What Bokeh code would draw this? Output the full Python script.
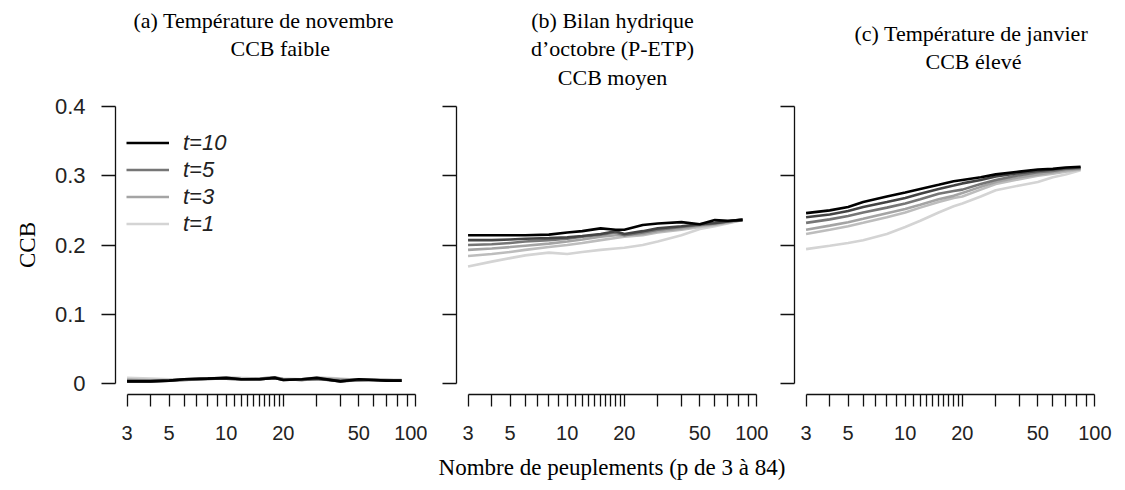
import math
from bokeh.plotting import figure
from bokeh.layouts import row, column
from bokeh.models import FixedTicker, Range1d, Title, Legend, LegendItem, Div
from bokeh.embed import file_html
from bokeh.resources import INLINE

# ---------------- data ----------------
P = [3, 4, 5, 6, 8, 10, 12, 15, 18, 20, 25, 30, 40, 50, 60, 70, 84]
T_LEVELS = [1, 2, 3, 5, 7, 10]
T_COLORS = ["#d4d4d4", "#bdbdbd", "#a4a4a4", "#767676", "#444444", "#000000"]
LEGEND_T = [10, 5, 3, 1]

# (a) Température de novembre
nov_t1 = [0.008, 0.007, 0.006, 0.006, 0.007, 0.009, 0.008, 0.007, 0.008, 0.007, 0.006, 0.009, 0.007, 0.005, 0.006, 0.005, 0.005]
nov_t2 = [0.006, 0.005, 0.005, 0.006, 0.007, 0.008, 0.007, 0.006, 0.008, 0.006, 0.005, 0.008, 0.006, 0.005, 0.005, 0.005, 0.005]
nov_t3 = [0.005, 0.004, 0.004, 0.005, 0.006, 0.008, 0.006, 0.006, 0.008, 0.006, 0.005, 0.007, 0.006, 0.004, 0.005, 0.004, 0.004]
nov_t5 = [0.004, 0.004, 0.004, 0.005, 0.007, 0.007, 0.006, 0.007, 0.009, 0.006, 0.005, 0.006, 0.004, 0.006, 0.005, 0.005, 0.004]
nov_t7 = [0.003, 0.003, 0.004, 0.006, 0.007, 0.007, 0.006, 0.006, 0.008, 0.005, 0.006, 0.007, 0.003, 0.005, 0.005, 0.004, 0.004]
nov_t10 = [0.003, 0.003, 0.004, 0.006, 0.007, 0.008, 0.006, 0.006, 0.008, 0.005, 0.006, 0.008, 0.003, 0.006, 0.005, 0.004, 0.004]

# (b) Bilan hydrique d'octobre
oct_t1 = [0.169, 0.176, 0.181, 0.185, 0.189, 0.187, 0.190, 0.193, 0.195, 0.196, 0.200, 0.205, 0.214, 0.223, 0.227, 0.231, 0.236]
oct_t2 = [0.184, 0.187, 0.190, 0.193, 0.197, 0.200, 0.203, 0.207, 0.210, 0.212, 0.214, 0.218, 0.222, 0.226, 0.229, 0.232, 0.236]
oct_t3 = [0.193, 0.195, 0.197, 0.199, 0.202, 0.205, 0.208, 0.212, 0.214, 0.214, 0.216, 0.220, 0.224, 0.228, 0.230, 0.233, 0.236]
oct_t5 = [0.200, 0.201, 0.203, 0.205, 0.207, 0.209, 0.212, 0.215, 0.218, 0.214, 0.218, 0.222, 0.226, 0.229, 0.231, 0.234, 0.237]
oct_t7 = [0.207, 0.207, 0.208, 0.209, 0.210, 0.211, 0.213, 0.216, 0.220, 0.216, 0.220, 0.224, 0.227, 0.230, 0.232, 0.234, 0.237]
oct_t10 = [0.214, 0.214, 0.214, 0.214, 0.215, 0.218, 0.220, 0.224, 0.222, 0.222, 0.229, 0.231, 0.233, 0.230, 0.236, 0.235, 0.236]

# (c) Température de janvier
jan_t1 = [0.194, 0.199, 0.203, 0.207, 0.216, 0.226, 0.235, 0.247, 0.256, 0.260, 0.270, 0.279, 0.286, 0.291, 0.298, 0.302, 0.308]
jan_t2 = [0.216, 0.222, 0.227, 0.232, 0.240, 0.247, 0.254, 0.262, 0.268, 0.270, 0.280, 0.288, 0.295, 0.300, 0.303, 0.306, 0.309]
jan_t3 = [0.222, 0.228, 0.233, 0.238, 0.246, 0.252, 0.258, 0.266, 0.271, 0.275, 0.284, 0.291, 0.298, 0.302, 0.305, 0.308, 0.310]
jan_t5 = [0.232, 0.237, 0.242, 0.247, 0.254, 0.260, 0.266, 0.274, 0.278, 0.280, 0.288, 0.294, 0.301, 0.305, 0.307, 0.310, 0.311]
jan_t7 = [0.240, 0.244, 0.249, 0.255, 0.262, 0.268, 0.274, 0.281, 0.286, 0.289, 0.294, 0.299, 0.304, 0.307, 0.309, 0.311, 0.312]
jan_t10 = [0.246, 0.250, 0.255, 0.262, 0.270, 0.276, 0.281, 0.287, 0.292, 0.294, 0.298, 0.302, 0.306, 0.309, 0.310, 0.312, 0.313]

X_TICKS = [3, 4, 5, 6, 7, 8, 9, 10, 11, 12, 13, 14, 15, 16, 17, 18, 19, 20,
           30, 40, 50, 60, 70, 80, 90, 100]
X_LABELED = [3, 5, 10, 20, 50, 100]
Y_TICKS = [0, 0.1, 0.2, 0.3, 0.4]
Y_LABELS = ["0", "0.1", "0.2", "0.3", "0.4"]

# title lines, top to bottom ("" = empty spacer line)
TITLES = [
    ["(a) Température de novembre", "CCB faible", ""],
    ["(b) Bilan hydrique", "d\u2019octobre (P-ETP)", "CCB moyen"],
    ["(c) Température de janvier", "CCB élevé", ""],
]
Y_LABEL = "CCB"
X_LABEL = "Nombre de peuplements (p de 3 à 84)"

SERIES = [
    [nov_t1, nov_t2, nov_t3, nov_t5, nov_t7, nov_t10],
    [oct_t1, oct_t2, oct_t3, oct_t5, oct_t7, oct_t10],
    [jan_t1, jan_t2, jan_t3, jan_t5, jan_t7, jan_t10],
]

SERIF = "Liberation Serif"
SANS = "Liberation Sans"

# R-style 4% range extension
x0, x1 = min(X_TICKS), max(X_TICKS)
ext = 0.04 * math.log10(x1 / x0)
XR = (x0 / 10 ** ext, x1 * 10 ** ext)
y0, y1 = min(Y_TICKS), max(Y_TICKS)
YR = (y0 - 0.04 * (y1 - y0), y1 + 0.04 * (y1 - y0))

FRAME_W = 312
FRAME_H = 299
LEFT_BORDERS = [115, 29, 26]
RIGHT_BORDERS = [0, 0, 16]
# standoffs of title boxes, from the frame upward (bottom line first)
TITLE_STANDOFFS = [
    [12, -9, 11],
    [12, -9, 11],
    [-1, -9, 11],
]
# horizontal placement of each title line (None = centred; number = left offset)
TITLE_OFFSETS = [
    [18, 115, None],
    [None, None, None],
    [60, 131, None],
]


def make_panel(i):
    p = figure(x_axis_type="log", x_range=Range1d(*XR), y_range=Range1d(*YR),
               frame_width=FRAME_W, frame_height=FRAME_H,
               min_border_left=LEFT_BORDERS[i], min_border_right=RIGHT_BORDERS[i],
               min_border_top=94, min_border_bottom=61,
               output_backend="svg", toolbar_location=None, tools="")
    p.grid.visible = False
    p.outline_line_color = None
    p.background_fill_color = "white"

    lines = TITLES[i]
    offs = TITLE_OFFSETS[i]
    n = len(lines)
    for k in range(n):
        j = n - 1 - k
        txt = lines[j]
        off = offs[j]
        kw = dict(align="center") if off is None else dict(align="left", offset=off)
        p.add_layout(Title(text=(txt if txt else " "), text_font=SERIF,
                           text_font_size="22px", text_font_style="normal",
                           text_color="black", standoff=TITLE_STANDOFFS[i][k], **kw), "above")

    # x axis
    xa = p.xaxis[0]
    xa.ticker = FixedTicker(ticks=X_TICKS)
    xa.major_label_overrides = {t: (str(t) if t in X_LABELED else "") for t in X_TICKS}
    xa.bounds = (x0, x1)
    xa.minor_tick_line_color = None
    xa.major_tick_in = 0
    xa.major_tick_out = 12
    xa.axis_line_width = 1.3
    xa.major_tick_line_width = 1.3
    xa.axis_line_color = "#111111"
    xa.major_tick_line_color = "#111111"
    xa.major_label_text_font = SANS
    xa.major_label_text_font_size = "20px"
    xa.major_label_text_color = "#222222"
    xa.major_label_standoff = 19

    # y axis
    ya = p.yaxis[0]
    ya.ticker = FixedTicker(ticks=Y_TICKS)
    ya.major_label_overrides = {t: (lab if i == 0 else "") for t, lab in zip(Y_TICKS, Y_LABELS)}
    ya.bounds = (y0, y1)
    ya.minor_tick_line_color = None
    ya.major_tick_in = 0
    ya.major_tick_out = 14
    ya.axis_line_width = 1.3
    ya.major_tick_line_width = 1.3
    ya.axis_line_color = "#111111"
    ya.major_tick_line_color = "#111111"
    ya.major_label_text_font = SANS
    ya.major_label_text_font_size = "22px"
    ya.major_label_text_color = "#222222"
    ya.major_label_standoff = 16
    ya.major_label_orientation = "horizontal"
    if i == 0:
        ya.axis_label = Y_LABEL
        ya.axis_label_text_font = SERIF
        ya.axis_label_text_font_size = "23px"
        ya.axis_label_text_font_style = "normal"
        ya.axis_label_text_color = "black"
        ya.axis_label_standoff = 12

    renderers = {}
    for t, col, ys in zip(T_LEVELS, T_COLORS, SERIES[i]):
        r = p.line(P, ys, line_color=col, line_width=2.6)
        renderers[t] = r

    if i == 0:
        items = [LegendItem(label=f"t={t}", renderers=[renderers[t]]) for t in LEGEND_T]
        leg = Legend(items=items, location=(11, 157), padding=0, margin=0, spacing=0,
                     glyph_width=43, glyph_height=27, label_height=27,
                     label_standoff=14, label_text_font=SANS, label_text_font_size="22px",
                     label_text_font_style="italic", label_text_color="#222222",
                     border_line_alpha=0, background_fill_alpha=0)
        p.add_layout(leg, "center")
    return p


figs = [make_panel(i) for i in range(3)]
xlabel_div = Div(text=X_LABEL, width=420, height=28, margin=(0, 0, 0, 402),
                 styles={"text-align": "center", "font-family": SERIF,
                         "font-size": "23px", "line-height": "26px", "color": "black"})
layout = column(row(*figs), xlabel_div)
open("out.html", "w").write(file_html(layout, INLINE))
